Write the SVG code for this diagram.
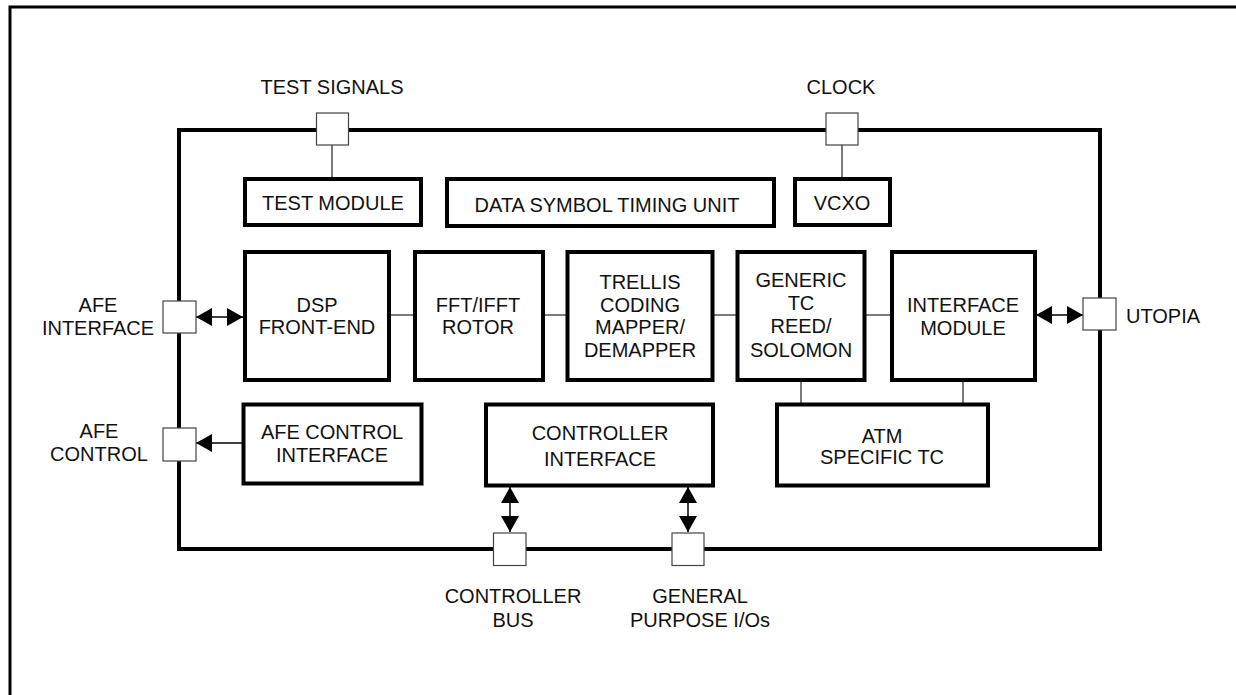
<svg xmlns="http://www.w3.org/2000/svg" width="1236" height="695" viewBox="0 0 1236 695">
<defs>
<style>
text{font-family:"Liberation Sans",Arial,sans-serif;font-size:20px;fill:#111;text-anchor:middle}
.blk{fill:#fff;stroke:#000;stroke-width:4}
.pin{fill:#fff;stroke:#444;stroke-width:1.2}
.ln{stroke:#333;stroke-width:1.3;fill:none}
.ar{stroke:#000;stroke-width:1.5;fill:none}
</style>
<marker id="ah" viewBox="0 0 16 18" refX="16" refY="9" markerWidth="16" markerHeight="18" markerUnits="userSpaceOnUse" orient="auto-start-reverse">
<path d="M0,0 L16,9 L0,18 z" fill="#000"/>
</marker>
</defs>
<rect width="1236" height="695" fill="#fff"/>
<path d="M10,695 V7 H1236" fill="none" stroke="#000" stroke-width="3"/>
<g id="chip"><rect x="179" y="130" width="921" height="419" fill="none" stroke="#000" stroke-width="4"/></g>

<g id="connectors">
<line class="ln" x1="332" y1="145" x2="332" y2="179"/>
<line class="ln" x1="842" y1="145" x2="842" y2="179"/>
<line class="ln" x1="390" y1="315" x2="413" y2="315"/>
<line class="ln" x1="544" y1="315" x2="566" y2="315"/>
<line class="ln" x1="714" y1="315" x2="736" y2="315"/>
<line class="ln" x1="866" y1="315" x2="890" y2="315"/>
<line class="ln" x1="801" y1="381" x2="801" y2="403"/>
<line class="ln" x1="963" y1="381" x2="963" y2="403"/>
<line class="ar" x1="196" y1="317" x2="243" y2="317" marker-start="url(#ah)" marker-end="url(#ah)"/>
<line class="ar" x1="1036" y1="315" x2="1083" y2="315" marker-start="url(#ah)" marker-end="url(#ah)"/>
<line class="ar" x1="242" y1="443" x2="196" y2="443" marker-end="url(#ah)"/>
<line class="ar" x1="510" y1="487" x2="510" y2="532" marker-start="url(#ah)" marker-end="url(#ah)"/>
<line class="ar" x1="688" y1="487" x2="688" y2="532" marker-start="url(#ah)" marker-end="url(#ah)"/>
</g>

<g id="pin-test-signals"><rect class="pin" x="316.5" y="113" width="32" height="32"/><text x="332" y="94">TEST SIGNALS</text></g>
<g id="pin-clock"><rect class="pin" x="826" y="113" width="32" height="32"/><text x="841" y="94">CLOCK</text></g>
<g id="pin-afe-interface"><rect class="pin" x="163" y="301" width="33" height="32"/><text x="98" y="312">AFE</text><text x="98" y="335">INTERFACE</text></g>
<g id="pin-utopia"><rect class="pin" x="1083" y="298" width="33" height="32"/><text x="1163" y="323">UTOPIA</text></g>
<g id="pin-afe-control"><rect class="pin" x="163" y="428" width="33" height="33"/><text x="99" y="438">AFE</text><text x="99" y="461">CONTROL</text></g>
<g id="pin-controller-bus"><rect class="pin" x="493.5" y="533" width="32.5" height="32.5"/><text x="513" y="603">CONTROLLER</text><text x="513" y="627">BUS</text></g>
<g id="pin-gpio"><rect class="pin" x="672" y="533" width="32" height="32.5"/><text x="700" y="603">GENERAL</text><text x="700" y="627">PURPOSE I/Os</text></g>

<g id="test-module"><rect class="blk" x="245" y="179" width="176" height="46"/><text x="333" y="210">TEST MODULE</text></g>
<g id="data-symbol-timing-unit"><rect class="blk" x="447" y="179" width="327" height="47"/><text x="607" y="212">DATA SYMBOL TIMING UNIT</text></g>
<g id="vcxo"><rect class="blk" x="795" y="179" width="95" height="46"/><text x="842" y="210">VCXO</text></g>

<g id="dsp-front-end"><rect class="blk" x="245" y="252" width="144" height="128"/><text x="317" y="312">DSP</text><text x="317" y="334">FRONT-END</text></g>
<g id="fft-ifft-rotor"><rect class="blk" x="415" y="252" width="128" height="128"/><text x="478" y="312">FFT/IFFT</text><text x="478" y="334">ROTOR</text></g>
<g id="trellis"><rect class="blk" x="567.5" y="252" width="145" height="128"/><text x="640" y="289">TRELLIS</text><text x="640" y="312">CODING</text><text x="640" y="334">MAPPER/</text><text x="640" y="357">DEMAPPER</text></g>
<g id="generic-tc"><rect class="blk" x="737.5" y="252" width="127" height="128"/><text x="801" y="287">GENERIC</text><text x="801" y="310">TC</text><text x="801" y="333">REED/</text><text x="801" y="357">SOLOMON</text></g>
<g id="interface-module"><rect class="blk" x="892" y="252" width="143" height="128"/><text x="963" y="312">INTERFACE</text><text x="963" y="335">MODULE</text></g>

<g id="afe-control-interface"><rect class="blk" x="243.5" y="404.5" width="178" height="79"/><text x="332" y="439">AFE CONTROL</text><text x="332" y="462">INTERFACE</text></g>
<g id="controller-interface"><rect class="blk" x="486" y="404.5" width="227" height="81"/><text x="600" y="440">CONTROLLER</text><text x="600" y="466">INTERFACE</text></g>
<g id="atm-specific-tc"><rect class="blk" x="777" y="404.5" width="211" height="81"/><text x="882" y="443">ATM</text><text x="882" y="464">SPECIFIC TC</text></g>
</svg>
